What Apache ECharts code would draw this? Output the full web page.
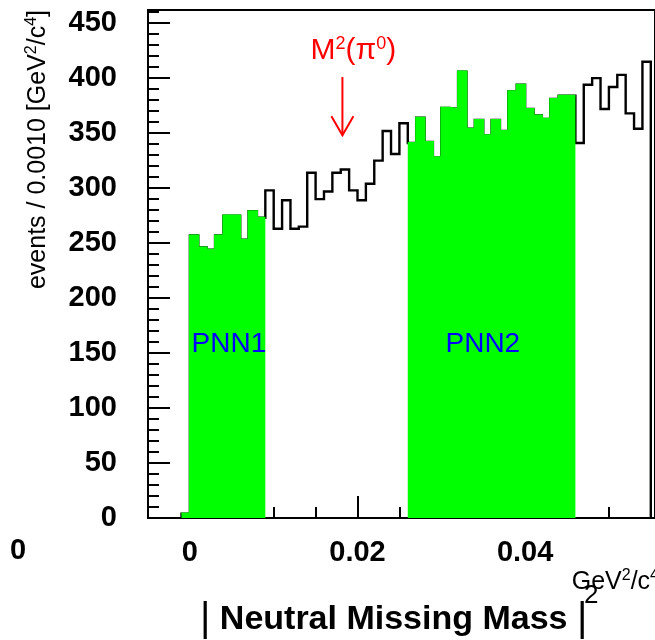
<!DOCTYPE html>
<html><head><meta charset="utf-8">
<script src="https://cdn.jsdelivr.net/npm/echarts@6/dist/echarts.min.js"></script>
<style>html,body{margin:0;padding:0;background:#fff}#c{width:655px;height:640px}</style>
</head><body><div id="c"></div>
<script>
// ---------------- data ----------------
const binStart = -0.001;           // low edge of first bin (GeV^2/c^4)
const binWidth = 0.001;            // events / 0.0010
const counts = [
  4,
  257, 246, 244, 257, 275, 275, 253, 279, 273,
  298, 263, 289, 263, 265, 314, 290, 297, 314, 317, 298, 289, 304, 325, 352, 331, 359,
  341, 364, 342, 328, 373, 372, 406, 354, 362, 348, 362, 352, 388, 394, 372, 366, 363, 381, 384, 384,
  341, 394, 400, 372, 392, 403, 368, 354, 415
];
const pnn1Range = [-0.001, 0.009];
const pnn2Range = [0.026, 0.046];
const xMajorTicks = [0, 0.02, 0.04];
const xMinorStep = 0.005;
const yMajorTicks = [0, 50, 100, 150, 200, 250, 300, 350, 400, 450];
const yMinorStep = 10;
const regionNames = ['PNN1', 'PNN2'];
const regionLabelX = [0.0002, 0.0305];
const regionLabelY = [158, 158];
const pi0Mass2 = 0.0182;           // M^2(pi0)
const arrowFrom = 401;
const arrowTo = 348;
const arrowTextY = 425;

// ---------------- build ----------------
const FONT = '"Liberation Sans", Arial, Helvetica, sans-serif';
const edge = i => +(binStart + i * binWidth).toFixed(6);
function steps(filter) {
  const pts = [];
  counts.forEach((v, i) => {
    const x0 = edge(i), x1 = edge(i + 1);
    if (filter(x0, x1)) { pts.push([x0, v], [x1, v]); }
  });
  return pts;
}
const outline = [[edge(0), 0]].concat(steps(() => true), [[edge(counts.length), 0]]);
const inR = r => (x0, x1) => x0 >= r[0] - 1e-9 && x1 <= r[1] + 1e-9;
const green1 = steps(inR(pnn1Range));
const green2 = steps(inR(pnn2Range));

const xMin = -0.005, xMax = 0.0555, yMax = 462;
const fmt = v => String(+(+v).toFixed(4));

const chart = echarts.init(document.getElementById('c'), null, {renderer: 'canvas', width: 655, height: 640});
const greenSeries = d => ({
  type: 'line', data: d, showSymbol: false, symbol: 'none', z: 3,
  lineStyle: {width: 2, color: '#00ff00', join: 'miter'}, areaStyle: {color: '#00ff00', opacity: 1},
  xAxisIndex: 0, yAxisIndex: 0, animation: false
});

chart.setOption({
  animation: false,
  backgroundColor: '#ffffff',
  grid: {left: 148, top: 10, width: 509, height: 508, show: true, borderColor: '#000', borderWidth: 2, containLabel: false},
  xAxis: [
    {type: 'value', min: xMin, max: xMax, position: 'bottom',
     axisLine: {show: true, onZero: false, lineStyle: {color: '#000', width: 2}},
     axisTick: {show: true, inside: true, length: 22, customValues: xMajorTicks, lineStyle: {color: '#000', width: 2}},
     axisLabel: {show: true, customValues: xMajorTicks, formatter: fmt, margin: 20,
       fontSize: 29, fontWeight: 'bold', fontFamily: FONT, color: '#000'},
     splitLine: {show: false}},
    {type: 'value', min: xMin, max: xMax, interval: xMinorStep, position: 'bottom',
     axisLine: {show: false, onZero: false},
     axisTick: {show: true, inside: true, length: 11, lineStyle: {color: '#000', width: 2}},
     axisLabel: {show: false}, splitLine: {show: false}}
  ],
  yAxis: [
    {type: 'value', min: 0, max: yMax, position: 'left',
     axisLine: {show: true, onZero: false, lineStyle: {color: '#000', width: 2}},
     axisTick: {show: true, inside: true, length: 22, customValues: yMajorTicks, lineStyle: {color: '#000', width: 2}},
     axisLabel: {show: true, customValues: yMajorTicks, margin: 31,
       fontSize: 29, fontWeight: 'bold', fontFamily: FONT, color: '#000'},
     splitLine: {show: false}},
    {type: 'value', min: 0, max: yMax, interval: yMinorStep, position: 'left',
     axisLine: {show: false, onZero: false},
     axisTick: {show: true, inside: true, length: 11, lineStyle: {color: '#000', width: 2}},
     axisLabel: {show: false}, splitLine: {show: false}}
  ],
  series: [
    {type: 'line', data: outline, showSymbol: false, symbol: 'none', z: 2,
     lineStyle: {color: '#000', width: 2.4, join: 'miter'}, xAxisIndex: 0, yAxisIndex: 0},
    greenSeries(green1),
    greenSeries(green2),
    {type: 'custom', coordinateSystem: 'cartesian2d', xAxisIndex: 0, yAxisIndex: 0, z: 5,
     data: regionNames.map((n, i) => [regionLabelX[i], regionLabelY[i], n]),
     renderItem: (params, api) => {
       const p = api.coord([api.value(0), api.value(1)]);
       return {type: 'text', x: p[0], y: p[1],
         style: {text: regionNames[params.dataIndex], fill: '#0000ff', fontSize: 28, fontFamily: FONT,
           align: 'left', verticalAlign: 'middle'}};
     }},
    {type: 'custom', coordinateSystem: 'cartesian2d', xAxisIndex: 0, yAxisIndex: 0, z: 5,
     data: [[pi0Mass2, arrowFrom, arrowTo, arrowTextY]],
     renderItem: (params, api) => {
       const a = api.coord([api.value(0), api.value(1)]);
       const b = api.coord([api.value(0), api.value(2)]);
       const t = api.coord([api.value(0), api.value(3)]);
       return {type: 'group', children: [
         {type: 'line', shape: {x1: a[0], y1: a[1], x2: b[0], y2: b[1]}, style: {stroke: '#ff0000', lineWidth: 2}},
         {type: 'polyline', shape: {points: [[b[0] - 11, b[1] - 19], [b[0], b[1]], [b[0] + 11, b[1] - 19]]},
          style: {stroke: '#ff0000', lineWidth: 2, fill: null}},
         {type: 'text', x: t[0] + 11, y: t[1],
          style: {text: '{a|M}{b|2}{a|(π}{b|0}{a|)}', align: 'center', verticalAlign: 'middle',
            rich: {a: {fontSize: 30, lineHeight: 32, fontFamily: FONT, fill: '#ff0000'},
                   b: {fontSize: 18, lineHeight: 18, verticalAlign: 'top', fontFamily: FONT, fill: '#ff0000'}}}}
       ]};
     }}
  ],
  graphic: [
    {type: 'text', x: 18, y: 551,
     style: {text: '0', fontSize: 29, fontWeight: 'bold', fontFamily: FONT, fill: '#000', align: 'center', verticalAlign: 'middle'}},
    {type: 'text', x: 38, y: 10, rotation: Math.PI / 2,
     style: {text: '{m|events / 0.0010 [GeV}{s|2}{m|/c}{s|4}{m|]}', align: 'right', verticalAlign: 'middle',
       rich: {m: {fontSize: 25, lineHeight: 28, fontFamily: FONT, fill: '#000'},
              s: {fontSize: 16, lineHeight: 16, verticalAlign: 'top', fontFamily: FONT, fill: '#000'}}}},
    {type: 'text', x: 659, y: 582,
     style: {text: '{m|GeV}{s|2}{m|/c}{s|4}', align: 'right', verticalAlign: 'middle',
       rich: {m: {fontSize: 25, lineHeight: 28, fontFamily: FONT, fill: '#000'},
              s: {fontSize: 16, lineHeight: 16, verticalAlign: 'top', fontFamily: FONT, fill: '#000'}}}},
    {type: 'text', x: 200, y: 620,
     style: {text: '{p||}{t| Neutral Missing Mass }{p||}', align: 'left', verticalAlign: 'middle',
       rich: {p: {fontSize: 40, lineHeight: 42, fontFamily: FONT, fill: '#000'},
              t: {fontSize: 34, lineHeight: 42, fontWeight: 'bold', fontFamily: FONT, fill: '#000'}}}},
    {type: 'text', x: 584, y: 596,
     style: {text: '2', fontSize: 26, fontFamily: FONT, fill: '#000', align: 'left', verticalAlign: 'middle'}}
  ]
});
</script>
</body></html>
